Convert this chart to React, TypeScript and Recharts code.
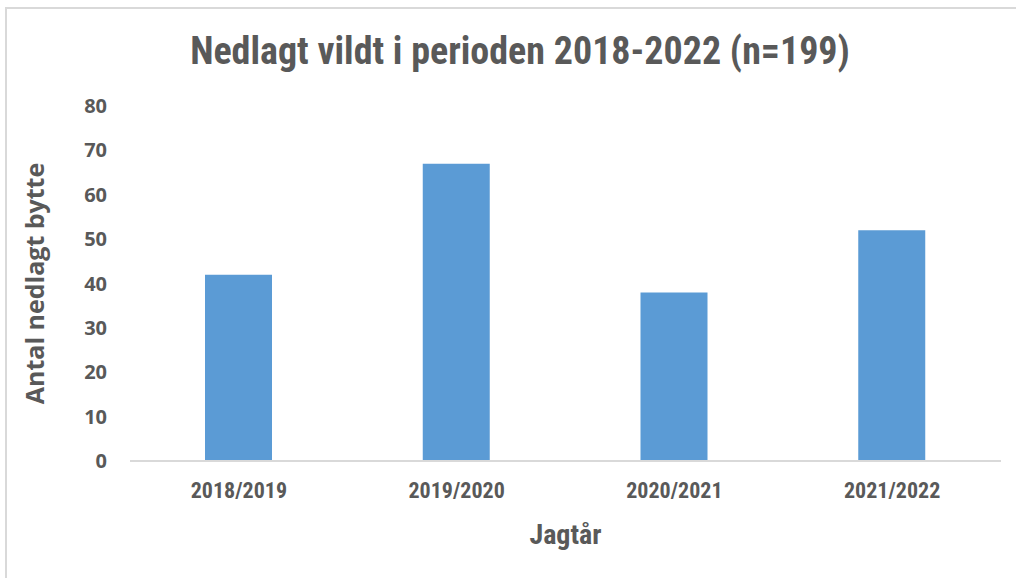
import React from 'react';
import { BarChart, Bar, XAxis, YAxis } from 'recharts';

const categories = ['2018/2019', '2019/2020', '2020/2021', '2021/2022'];
const values = [42, 67, 38, 52];
const yTicks = [0, 10, 20, 30, 40, 50, 60, 70, 80];

const data = categories.map((c, i) => ({ name: c, value: values[i] }));

const textColor = '#595959';
const narrow = '"Liberation Sans Narrow", "Arial Narrow", "Roboto Condensed", Roboto, sans-serif';
const wide = '"Open Sans", "Noto Sans", sans-serif';

export default function App() {
  return (
    <div style={{ position: 'fixed', left: 0, top: 0, width: 1016, height: 578, background: '#fff', overflow: 'hidden' }}>
      <div style={{ position: 'absolute', left: 5, top: 7, width: 1030, height: 600, border: '2px solid #d9d9d9', boxSizing: 'border-box' }} />
      <div style={{ position: 'absolute', left: 0, top: 29, width: 1040, textAlign: 'center', fontFamily: narrow, fontWeight: 700, fontSize: 38, color: textColor }}>
        Nedlagt vildt i perioden 2018-2022 (n=199)
      </div>
      <div style={{ position: 'absolute', left: 0, top: 0 }}>
        <BarChart width={1016} height={578} data={data} margin={{ top: 106, right: 15, left: 0, bottom: 0 }}>
          <XAxis
            dataKey="name"
            height={117}
            tickLine={false}
            tickSize={0}
            tickMargin={21}
            axisLine={{ stroke: '#d9d9d9', strokeWidth: 2 }}
            tick={{ fill: textColor, fontFamily: narrow, fontWeight: 700, fontSize: 22 }}
            label={{ value: 'Jagtår', position: 'center', dy: 15, fill: textColor, fontFamily: narrow, fontWeight: 700, fontSize: 28 }}
          />
          <YAxis
            width={130}
            domain={[0, 80]}
            ticks={yTicks}
            interval={0}
            axisLine={false}
            tickLine={false}
            tickSize={0}
            tickMargin={23}
            tick={{ fill: textColor, fontFamily: wide, fontWeight: 700, fontSize: 20 }}
            label={{ value: 'Antal nedlagt bytte', angle: -90, position: 'center', dx: -30, fill: textColor, fontFamily: wide, fontWeight: 700, fontSize: 25 }}
          />
          <Bar dataKey="value" fill="#5b9bd5" barSize={67} isAnimationActive={false} />
        </BarChart>
      </div>
    </div>
  );
}
